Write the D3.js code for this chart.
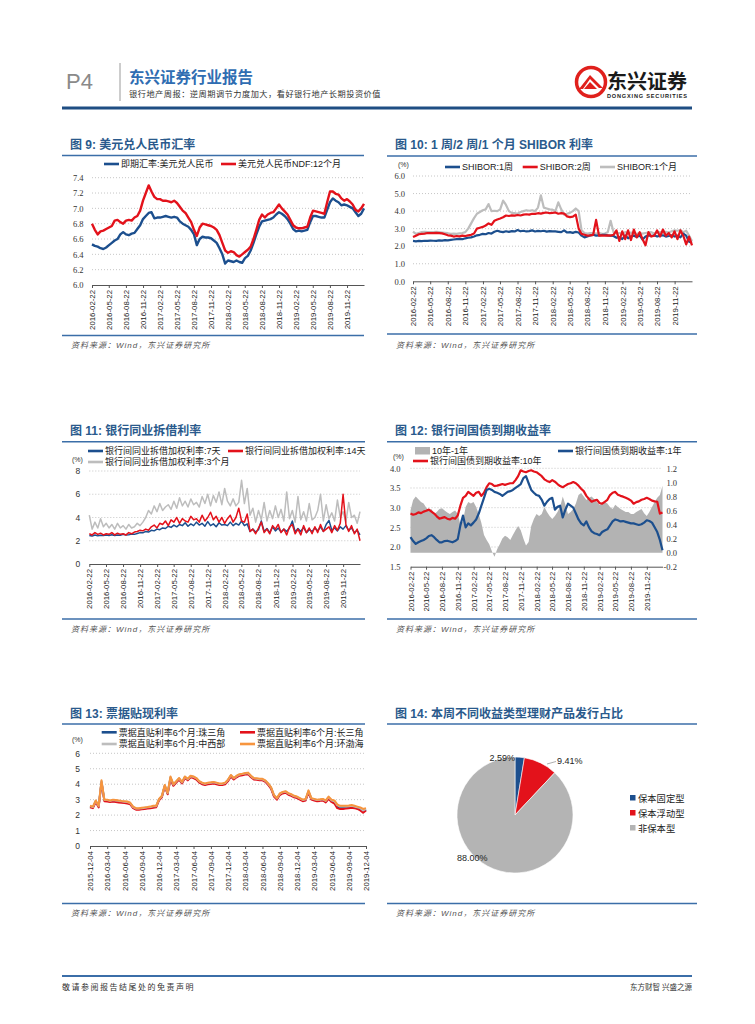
<!DOCTYPE html>
<html><head><meta charset="utf-8">
<script src="https://cdn.jsdelivr.net/npm/d3@7"></script>
<style>body{margin:0;background:#fff}svg{display:block}</style>
</head><body><script>
// ---------------- DATA ----------------
// Charts 9-12: half-monthly points, 2016-02-22 .. 2020-02-21
const fx_spot=[6.53,6.51,6.50,6.48,6.47,6.49,6.52,6.55,6.58,6.60,6.66,6.69,6.66,6.65,6.67,6.68,6.73,6.78,6.86,6.90,6.94,6.95,6.87,6.88,6.88,6.89,6.90,6.89,6.88,6.89,6.88,6.83,6.80,6.78,6.76,6.72,6.66,6.52,6.60,6.63,6.62,6.62,6.61,6.58,6.55,6.48,6.40,6.28,6.32,6.31,6.30,6.32,6.30,6.29,6.35,6.38,6.45,6.55,6.66,6.76,6.83,6.84,6.85,6.86,6.88,6.92,6.95,6.93,6.90,6.86,6.80,6.73,6.70,6.71,6.70,6.71,6.72,6.82,6.90,6.90,6.89,6.88,6.88,6.98,7.08,7.13,7.10,7.08,7.04,7.05,7.04,7.02,7.00,6.95,6.90,6.93,7.00];
const fx_ndf=[6.80,6.72,6.66,6.70,6.71,6.73,6.75,6.77,6.84,6.85,6.82,6.80,6.84,6.85,6.84,6.88,6.90,6.97,7.10,7.20,7.30,7.22,7.15,7.12,7.12,7.10,7.10,7.09,7.08,7.10,7.07,7.02,6.97,6.94,6.88,6.82,6.72,6.64,6.75,6.80,6.79,6.78,6.77,6.75,6.72,6.65,6.55,6.45,6.42,6.44,6.43,6.39,6.37,6.40,6.43,6.46,6.50,6.60,6.72,6.85,6.92,6.88,6.92,6.94,6.95,7.00,7.05,7.00,6.96,6.92,6.85,6.78,6.75,6.74,6.74,6.75,6.76,6.88,6.97,6.96,6.95,6.94,6.93,7.08,7.22,7.22,7.19,7.18,7.13,7.10,7.12,7.09,7.05,6.98,6.96,7.00,7.06];

const shibor1w=[2.30,2.28,2.30,2.29,2.31,2.30,2.32,2.31,2.30,2.33,2.32,2.35,2.33,2.36,2.38,2.40,2.42,2.40,2.45,2.48,2.50,2.55,2.62,2.65,2.70,2.68,2.75,2.72,2.82,2.88,2.83,2.80,2.85,2.82,2.86,2.84,2.92,2.85,2.88,2.84,2.86,2.90,2.84,2.87,2.85,2.88,2.83,2.86,2.85,2.84,2.82,2.80,2.90,2.78,2.80,2.76,2.82,2.78,2.60,2.50,2.55,2.62,2.65,2.60,2.62,2.64,2.65,2.62,2.60,2.58,2.48,2.52,2.40,2.62,2.45,2.55,2.60,2.52,2.62,2.38,2.55,2.62,2.58,2.62,2.55,2.60,2.62,2.55,2.58,2.62,2.55,2.60,2.50,2.72,2.60,2.25,2.20];
const shibor2w=[2.52,2.60,2.68,2.70,2.72,2.75,2.74,2.75,2.76,2.75,2.73,2.68,2.62,2.60,2.55,2.58,2.56,2.60,2.58,2.62,2.65,2.72,3.00,3.05,3.10,3.18,3.30,3.22,3.45,3.52,3.58,3.65,3.75,3.72,3.76,3.74,3.78,3.75,3.80,3.82,3.80,3.85,3.84,3.88,3.86,3.90,3.92,3.88,3.90,3.92,3.85,3.88,3.86,3.70,3.66,3.68,3.80,3.00,2.70,2.65,2.60,2.62,2.65,3.50,2.60,2.62,2.60,2.62,2.60,2.65,2.90,2.30,2.85,2.40,2.90,2.35,2.95,2.50,2.80,2.40,2.05,2.80,2.55,2.60,2.90,2.55,2.95,2.60,2.75,2.50,2.85,2.40,2.90,2.60,2.10,2.55,2.05];
const shibor1m=[2.83,2.70,2.75,2.80,2.82,2.80,2.81,2.80,2.82,2.80,2.78,2.76,2.74,2.70,2.72,2.70,2.73,2.75,2.80,3.00,3.30,3.60,3.85,3.95,4.05,4.10,4.40,4.00,4.02,4.00,4.10,4.60,4.35,4.00,3.90,3.88,3.85,3.95,4.00,4.05,4.02,4.05,4.00,4.20,4.90,4.20,4.15,4.10,4.08,4.00,4.50,4.10,3.80,3.85,3.90,4.00,4.15,4.00,2.90,2.75,2.72,2.75,2.74,2.72,2.75,2.70,2.72,2.80,3.45,2.80,2.72,2.75,2.70,2.80,2.75,2.78,2.72,2.70,2.75,2.72,2.75,2.78,2.80,2.72,2.78,2.80,2.75,2.82,2.78,2.85,2.90,2.88,2.92,2.80,2.88,2.60,2.30];

const ib7d=[2.45,2.40,2.50,2.42,2.48,2.45,2.50,2.46,2.52,2.45,2.50,2.48,2.55,2.50,2.52,2.58,2.55,2.62,2.70,2.68,2.80,2.75,2.90,2.85,3.00,2.95,3.10,3.05,3.25,3.15,3.35,3.20,3.40,3.30,3.55,3.25,3.45,3.30,3.60,3.35,3.50,3.25,3.65,3.30,3.45,3.20,3.55,3.35,3.40,3.30,3.60,3.30,3.50,3.35,3.70,3.30,3.45,2.80,3.00,2.75,2.95,3.70,2.80,3.05,2.70,3.20,2.85,3.10,2.75,3.00,2.80,3.10,3.70,2.75,3.05,2.80,3.15,2.70,2.95,2.80,3.10,2.85,3.20,2.80,3.40,3.75,2.90,3.10,2.85,3.20,3.00,3.30,2.90,3.10,2.70,2.90,2.50];
const ib14d=[2.60,2.50,2.70,2.55,2.65,2.50,2.60,2.55,2.70,2.50,2.65,2.55,2.60,2.50,2.70,2.60,2.75,2.80,2.90,2.85,3.00,2.90,3.20,3.35,3.10,3.50,3.40,3.70,3.30,3.80,3.60,4.00,3.50,3.90,3.70,3.60,4.10,3.80,3.90,3.60,4.20,3.70,4.00,4.45,3.80,4.10,3.60,4.00,3.50,3.90,4.20,3.60,4.00,4.80,3.70,3.60,4.30,2.80,3.00,2.60,3.10,3.60,2.70,3.00,2.60,3.30,3.00,3.40,2.70,3.00,2.50,3.20,3.40,2.60,3.00,2.50,3.30,2.70,3.10,2.60,3.20,2.70,3.40,2.80,3.00,3.20,2.70,3.30,2.90,3.50,6.00,3.40,2.80,3.30,2.60,3.00,2.00];
const ib3m=[4.20,3.00,3.60,3.10,3.90,3.20,3.50,3.10,3.40,3.00,3.50,3.10,3.30,3.00,3.40,3.10,3.20,3.50,3.30,3.60,4.00,4.60,4.30,5.00,4.50,5.20,4.60,4.90,5.10,4.70,5.40,4.80,5.70,5.00,5.40,4.90,5.60,5.10,5.30,4.90,5.80,5.20,6.00,5.00,5.90,5.30,6.20,5.10,6.50,5.40,5.00,5.60,5.00,5.30,7.20,5.20,6.50,4.20,4.80,3.60,4.60,3.80,5.30,3.70,4.60,3.90,5.00,4.00,4.70,3.70,6.20,3.90,4.60,3.60,5.80,3.80,4.50,3.70,5.20,3.80,4.00,4.60,6.00,3.70,5.10,3.90,4.40,3.70,5.50,4.00,4.50,3.60,5.30,4.00,4.20,3.50,4.50];

const spread=[0.60,0.75,0.80,0.76,0.72,0.70,0.64,0.60,0.62,0.55,0.58,0.62,0.63,0.60,0.57,0.55,0.58,0.60,0.55,0.40,0.45,0.65,0.72,0.70,0.72,0.65,0.55,0.42,0.25,0.18,0.12,0.02,-0.06,0.05,0.12,0.20,0.24,0.22,0.18,0.25,0.32,0.38,0.32,0.20,0.10,0.15,0.38,0.48,0.55,0.52,0.55,0.65,0.58,0.52,0.48,0.52,0.58,0.65,0.80,0.68,0.55,0.58,0.62,0.70,0.82,0.85,0.80,0.75,0.78,0.80,0.76,0.72,0.68,0.70,0.72,0.70,0.65,0.62,0.68,0.65,0.62,0.60,0.58,0.58,0.55,0.55,0.58,0.60,0.62,0.56,0.52,0.58,0.65,0.72,0.78,0.82,0.95];
const y10=[2.85,2.82,2.84,2.88,2.86,2.90,2.92,2.95,2.90,2.85,2.78,2.72,2.74,2.76,2.72,2.70,2.74,2.72,2.80,3.05,3.25,3.30,3.40,3.35,3.30,3.38,3.40,3.30,3.38,3.52,3.62,3.60,3.55,3.56,3.58,3.60,3.58,3.60,3.62,3.62,3.70,3.80,3.95,3.92,3.90,3.93,3.95,3.92,3.90,3.85,3.80,3.72,3.68,3.65,3.70,3.66,3.60,3.55,3.52,3.56,3.60,3.62,3.65,3.62,3.56,3.48,3.42,3.30,3.22,3.15,3.18,3.20,3.12,3.10,3.15,3.20,3.32,3.38,3.40,3.33,3.30,3.28,3.25,3.22,3.18,3.10,3.14,3.16,3.20,3.22,3.25,3.22,3.18,3.16,3.15,2.85,2.88];
const y1=[2.25,2.15,2.08,2.12,2.15,2.18,2.22,2.28,2.30,2.25,2.18,2.12,2.12,2.15,2.16,2.14,2.12,2.15,2.20,2.55,2.80,2.50,2.60,2.55,2.62,2.70,2.85,3.05,3.25,3.45,3.48,3.45,3.40,3.38,3.35,3.30,3.35,3.40,3.42,3.45,3.50,3.55,3.60,3.75,3.80,3.62,3.45,3.38,3.32,3.30,3.20,3.05,3.15,3.22,3.25,2.95,3.02,3.05,2.75,2.95,3.10,3.05,3.00,2.85,2.70,2.60,2.55,2.65,2.50,2.40,2.35,2.33,2.30,2.38,2.42,2.45,2.55,2.65,2.70,2.68,2.65,2.66,2.64,2.62,2.60,2.60,2.58,2.56,2.58,2.62,2.68,2.66,2.62,2.50,2.38,2.18,1.92];

// Chart 13: half-monthly points, 2015-12-04 .. 2019-12-04
const bill_zsj=[2.55,2.50,2.90,2.55,4.15,2.95,2.92,2.90,2.92,2.90,2.88,2.85,2.83,2.80,2.75,2.50,2.40,2.40,2.42,2.45,2.48,2.50,2.53,2.55,3.00,3.20,3.90,3.40,4.42,3.95,4.15,4.35,4.10,4.45,4.30,4.50,4.45,4.35,4.15,4.05,4.00,4.05,4.07,4.10,4.05,4.00,4.00,4.05,4.25,4.55,4.35,4.50,4.60,4.63,4.67,4.70,4.50,4.35,4.33,4.30,4.30,4.20,4.00,3.75,3.25,3.05,3.35,3.45,3.50,3.37,3.30,3.20,3.15,3.05,2.95,3.00,3.52,3.05,3.00,2.95,2.97,3.00,2.88,3.12,2.92,2.85,2.55,2.48,2.50,2.50,2.52,2.55,2.52,2.45,2.40,2.22,2.35];
const bill_csj=[2.50,2.45,2.85,2.50,4.10,2.90,2.88,2.85,2.88,2.85,2.82,2.80,2.78,2.75,2.70,2.45,2.35,2.35,2.38,2.40,2.42,2.45,2.48,2.50,2.95,3.15,3.85,3.35,4.35,3.90,4.10,4.30,4.05,4.40,4.25,4.45,4.40,4.30,4.10,4.00,3.95,4.00,4.02,4.05,4.00,3.95,3.95,4.00,4.20,4.50,4.30,4.45,4.55,4.58,4.62,4.65,4.45,4.30,4.28,4.25,4.25,4.15,3.95,3.70,3.20,3.00,3.30,3.40,3.45,3.32,3.25,3.15,3.10,3.00,2.90,2.95,3.45,3.00,2.95,2.90,2.92,2.95,2.82,3.05,2.85,2.75,2.45,2.40,2.40,2.42,2.45,2.48,2.45,2.40,2.30,2.15,2.30];
const bill_zxb=[2.58,2.52,2.92,2.58,4.20,2.98,2.97,2.93,2.97,2.95,2.92,2.90,2.87,2.85,2.78,2.52,2.42,2.43,2.45,2.48,2.50,2.52,2.57,2.58,3.02,3.22,3.92,3.42,4.46,3.98,4.18,4.38,4.12,4.48,4.32,4.52,4.48,4.38,4.18,4.08,4.02,4.08,4.10,4.12,4.08,4.02,4.02,4.08,4.28,4.58,4.38,4.52,4.62,4.66,4.70,4.72,4.52,4.38,4.35,4.32,4.32,4.22,4.02,3.78,3.28,3.08,3.38,3.48,3.52,3.40,3.32,3.22,3.18,3.08,2.98,3.02,3.56,3.08,3.02,2.98,3.00,3.02,2.92,3.16,2.96,2.90,2.65,2.55,2.55,2.56,2.58,2.60,2.56,2.50,2.45,2.30,2.40];
const bill_hbh=[2.60,2.55,2.95,2.60,4.25,3.00,3.00,2.95,3.00,2.98,2.95,2.92,2.90,2.88,2.80,2.55,2.45,2.45,2.48,2.50,2.52,2.55,2.60,2.60,3.05,3.25,3.95,3.45,4.50,4.00,4.20,4.40,4.15,4.50,4.35,4.55,4.50,4.40,4.20,4.10,4.05,4.10,4.12,4.15,4.10,4.05,4.05,4.10,4.30,4.60,4.40,4.55,4.65,4.68,4.72,4.75,4.55,4.40,4.38,4.35,4.35,4.25,4.05,3.80,3.30,3.10,3.40,3.50,3.55,3.42,3.35,3.25,3.20,3.10,3.00,3.05,3.60,3.10,3.05,3.00,3.02,3.05,2.95,3.20,3.00,2.95,2.70,2.60,2.60,2.60,2.62,2.65,2.60,2.55,2.50,2.40,2.45];

// Chart 14
const pieCats=['保本固定型','保本浮动型','非保本型'];
const pieVals=[2.59,9.41,88.00];

// Axis ticks
const yTicks9=[6.0,6.2,6.4,6.6,6.8,7.0,7.2,7.4];
const yTicks10=[0,1,2,3,4,5,6];
const yTicks11=[0,2,4,6,8];
const yTicks12L=[1.5,2.0,2.5,3.0,3.5,4.0];
const yTicks12R=[-0.2,0,0.2,0.4,0.6,0.8,1.0,1.2];
const yTicks13=[0,1,2,3,4,5,6];

// ---------------- DRAWING ----------------
const svg=d3.select('body').append('svg').attr('width',755).attr('height',1024);
const CJK='"Liberation Sans","Noto Sans CJK SC",sans-serif';
const SERIF='"Liberation Serif","DejaVu Serif",serif';
const BLUE='#1C4F8E',RED='#E3121B',GRAY='#BDBDBD',ORANGE='#F7953E',TBLUE='#2A5A8C',LBLUE='#3B6EA8';

function txt(x,y,s,o={}){
  const t=svg.append('text').attr('x',x).attr('y',y).text(s)
    .style('font-family',o.ff||CJK).style('font-size',(o.fs||9)+'px').attr('fill',o.fill||'#222');
  if(o.fw)t.style('font-weight',o.fw);
  if(o.anchor)t.attr('text-anchor',o.anchor);
  if(o.italic)t.style('font-style','italic');
  if(o.ls!==undefined)t.style('letter-spacing',o.ls+'px');
  return t;
}
function hline(x1,x2,y,c,w){svg.append('line').attr('x1',x1).attr('x2',x2).attr('y1',y).attr('y2',y).attr('stroke',c).attr('stroke-width',w);}
function panel(x0,x1,titleY,title,lineY,bottomY,srcY){
  txt(x0+8,titleY,title,{fs:12,fw:'bold',fill:TBLUE});
  hline(x0,x1,lineY,LBLUE,1.6);
  hline(x0,x1,bottomY,LBLUE,1.6);
  txt(x0+9,srcY,'资料来源：Wind，东兴证券研究所',{fs:8,italic:true,fill:'#555',ls:1});
}
function legLine(x,y,c,s,w=2.6){
  svg.append('line').attr('x1',x).attr('x2',x+15).attr('y1',y).attr('y2',y).attr('stroke',c).attr('stroke-width',w);
  txt(x+17,y+3.2,s,{fs:9,fill:'#222'});
}

// Header
txt(66,89,'P4',{fs:22,fill:'#8A8A8A'});
svg.append('line').attr('x1',120).attr('x2',120).attr('y1',63).attr('y2',101).attr('stroke','#9A9A9A').attr('stroke-width',1);
txt(129,83,'东兴证券行业报告',{fs:15.5,fw:'bold',fill:'#2F6DB2'});
txt(129,97,'银行地产周报：逆周期调节力度加大，看好银行地产长期投资价值',{fs:8.2,fill:'#333',ls:0.5});
// logo
svg.append('circle').attr('cx',591).attr('cy',82).attr('r',14.5).attr('fill','#fff').attr('stroke','#E0201C').attr('stroke-width',3.5);
svg.append('path').attr('d','M579,89 L590,75 L603,88 L599,88 L590,79 L583,89 Z').attr('fill','#E0201C');
svg.append('path').attr('d','M584,89 L590,82 L597,89 Z').attr('fill','#E0201C');
txt(607,89,'东兴证券',{fs:20,fw:'bold',fill:'#1A1A1A'});
txt(607,97.5,'DONGXING SECURITIES',{fs:5.6,fw:'bold',fill:'#1A1A1A'}).attr('textLength',80);
hline(62,692,108,'#1F4E83',3);

// Footer
hline(62,692,976,LBLUE,2);
txt(62,990,'敬请参阅报告结尾处的免责声明',{fs:8,fill:'#333',ls:1.5});
txt(692,990,'东方财智 兴盛之源',{fs:7.5,fill:'#333',ls:0,anchor:'end'});

// generic time-series chart
function tsChart(o){
  const x=d3.scaleTime().domain(o.xd).range([o.x0,o.x1]);
  const y=d3.scaleLinear().domain(o.yd).range([o.yb,o.yt]);
  const g=svg.append('g');
  g.selectAll('line.grid').data(o.yticks.filter(v=>v!==o.yd[0])).join('line')
    .attr('x1',o.x0).attr('x2',o.x1).attr('y1',d=>y(d)).attr('y2',d=>y(d))
    .attr('stroke','#B8B8B8').attr('stroke-width',0.8).attr('stroke-dasharray','1,2');
  const ya=g.append('g').attr('transform',`translate(${o.x0},0)`)
    .call(d3.axisLeft(y).tickValues(o.yticks).tickFormat(o.yf).tickSize(0).tickPadding(o.pad));
  ya.select('.domain').remove();
  ya.selectAll('text').style('font-family',o.yfont).style('font-size',o.yfs+'px').attr('fill','#333');
  let yR=null;
  if(o.right){
    yR=d3.scaleLinear().domain(o.right.d).range([o.yb,o.yt]);
    const yr=g.append('g').attr('transform',`translate(${o.x1},0)`)
      .call(d3.axisRight(yR).tickValues(o.right.ticks).tickFormat(d=>d.toFixed(1)).tickSize(0).tickPadding(0));
    yr.select('.domain').remove();
    yr.selectAll('text').attr('x',o.right.tx).style('text-anchor','end').style('font-family',o.yfont).style('font-size',o.yfs+'px').attr('fill','#333');
    g.append('path').datum(o.right.vals)
      .attr('d',d3.area().x((d,i)=>x(o.dates[i])).y0(yR(0)).y1(d=>yR(d)))
      .attr('fill','#B3B3B3');
  }
  o.series.forEach(s=>{
    g.append('path').datum(s.v)
      .attr('d',d3.line().x((d,i)=>x(o.dates[i])).y(d=>y(d)))
      .attr('fill','none').attr('stroke',s.c).attr('stroke-width',s.w).attr('stroke-linejoin','round');
  });
  const xa=g.append('g').attr('transform',`translate(0,${o.yb})`)
    .call(d3.axisBottom(x).tickValues(o.ticks).tickFormat(d3.timeFormat('%Y-%m-%d')).tickSize(3).tickSizeOuter(0));
  xa.attr('color','#555');
  xa.selectAll('text').attr('transform','rotate(-90)').attr('x',-5).attr('y',0).attr('dy','0.33em')
    .style('text-anchor','end').style('font-size','7.8px').style('font-family','"Liberation Sans",sans-serif').attr('fill','#1a1a1a');
  return {x,y,yR};
}

const s1=new Date(2016,1,22), e1=new Date(2020,1,21);
const dates1=d3.range(97).map(i=>new Date(+s1+i*(e1-s1)/96));
const ticks1=d3.range(16).map(k=>new Date(2016,1+3*k,22));
const s2=new Date(2015,11,4), e2=new Date(2019,11,4);
const dates2=d3.range(97).map(i=>new Date(+s2+i*(e2-s2)/96));
const ticks2=d3.range(17).map(k=>new Date(2015,11+3*k,4));

// Chart 9
panel(62,364,149,'图 9: 美元兑人民币汇率',155.5,335.5,348);
legLine(104,164,BLUE,'即期汇率:美元兑人民币');
legLine(221,164,RED,'美元兑人民币NDF:12个月');
tsChart({x0:92,x1:364,yt:177.7,yb:285,xd:[s1,e1],yd:[6.0,7.4],yticks:yTicks9,yf:d=>d.toFixed(1),pad:8.5,yfont:SERIF,yfs:8.5,
  dates:dates1,ticks:ticks1,series:[{v:fx_spot,c:BLUE,w:2.4},{v:fx_ndf,c:RED,w:2.4}]});

// Chart 10
panel(387,697,149,'图 10: 1 周/2 周/1 个月 SHIBOR 利率',156,334,348);
txt(398,167,'(%)',{fs:7,fill:'#333'});
legLine(445,167,BLUE,'SHIBOR:1周');
legLine(522.7,167,RED,'SHIBOR:2周');
legLine(600,167,GRAY,'SHIBOR:1个月');
tsChart({x0:413,x1:692,yt:176,yb:281.3,xd:[s1,e1],yd:[0,6],yticks:yTicks10,yf:d=>d.toFixed(1),pad:8,yfont:SERIF,yfs:8.5,
  dates:dates1,ticks:ticks1,series:[{v:shibor1m,c:GRAY,w:2.2},{v:shibor1w,c:BLUE,w:2.2},{v:shibor2w,c:RED,w:2.2}]});

// Chart 11
panel(62,365,435,'图 11: 银行同业拆借利率',441.7,619,632);
legLine(88,451,BLUE,'银行间同业拆借加权利率:7天');
legLine(228,451,RED,'银行间同业拆借加权利率:14天');
legLine(88,462,GRAY,'银行间同业拆借加权利率:3个月');
txt(72,462,'(%)',{fs:7,fill:'#333'});
tsChart({x0:89.3,x1:360,yt:471,yb:564,xd:[s1,e1],yd:[0,8],yticks:yTicks11,yf:d=>d,pad:9,yfont:'"Liberation Sans",sans-serif',yfs:8.5,
  dates:dates1,ticks:ticks1,series:[{v:ib3m,c:GRAY,w:1.5},{v:ib7d,c:BLUE,w:1.5},{v:ib14d,c:RED,w:1.5}]});

// Chart 12
panel(387,697,435,'图 12: 银行间国债到期收益率',441.7,619,632);
svg.append('rect').attr('x',415).attr('y',447).attr('width',15).attr('height',7.5).attr('fill','#B3B3B3');
txt(432,454,'10年-1年',{fs:9,fill:'#222'});
legLine(558,451,BLUE,'银行间国债到期收益率:1年');
legLine(413,461,RED,'银行间国债到期收益率:10年');
txt(393,459,'(%)',{fs:7,fill:'#333'});
tsChart({x0:410.5,x1:662.5,yt:468.3,yb:566.7,xd:[s1,e1],yd:[1.5,4.0],yticks:yTicks12L,yf:d=>d.toFixed(1),pad:10,yfont:SERIF,yfs:8.5,
  right:{d:[-0.2,1.2],ticks:yTicks12R,vals:spread,tx:14.5},
  dates:dates1,ticks:ticks1,series:[{v:y10,c:RED,w:2.2},{v:y1,c:BLUE,w:2.2}]});

// Chart 13
panel(62,365,718,'图 13: 票据贴现利率',724,903.5,916);
legLine(101.7,732.3,BLUE,'票据直贴利率6个月:珠三角');
legLine(240,732.3,RED,'票据直贴利率6个月:长三角');
legLine(101.7,744,GRAY,'票据直贴利率6个月:中西部');
legLine(240,744,ORANGE,'票据直贴利率6个月:环渤海');
txt(72,742,'(%)',{fs:7,fill:'#333'});
tsChart({x0:90,x1:366,yt:753.3,yb:846,xd:[s2,e2],yd:[0,6],yticks:yTicks13,yf:d=>d,pad:10,yfont:'"Liberation Sans",sans-serif',yfs:8.5,
  dates:dates2,ticks:ticks2,series:[{v:bill_zsj,c:BLUE,w:2},{v:bill_csj,c:RED,w:2},{v:bill_zxb,c:GRAY,w:2},{v:bill_hbh,c:ORANGE,w:2}]});

// Chart 14
panel(387,697,718,'图 14: 本周不同收益类型理财产品发行占比',724,903.5,916);
const pieColors=[BLUE,RED,'#B4B4B4'];
const arcs=d3.pie().sort(null)(pieVals);
const arcGen=d3.arc().innerRadius(0).outerRadius(58);
svg.append('g').attr('transform','translate(515,815)').selectAll('path').data(arcs).join('path')
  .attr('d',arcGen).attr('fill',(d,i)=>pieColors[i]).attr('stroke','#fff').attr('stroke-width',0.6);
txt(515,761,pieVals[0].toFixed(2)+'%',{fs:9,fill:'#222',anchor:'end'});
svg.append('line').attr('x1',547).attr('y1',764).attr('x2',556).attr('y2',761.5).attr('stroke','#999').attr('stroke-width',0.8);
txt(557,764,pieVals[1].toFixed(2)+'%',{fs:9,fill:'#222'});
txt(457,861,pieVals[2].toFixed(2)+'%',{fs:9,fill:'#222'});
pieCats.forEach((c,i)=>{
  svg.append('rect').attr('x',630).attr('y',795+i*15).attr('width',5.5).attr('height',5.5).attr('fill',pieColors[i]);
  txt(638,801.5+i*15,c,{fs:9.3,fill:'#222'});
});
</script></body></html>
